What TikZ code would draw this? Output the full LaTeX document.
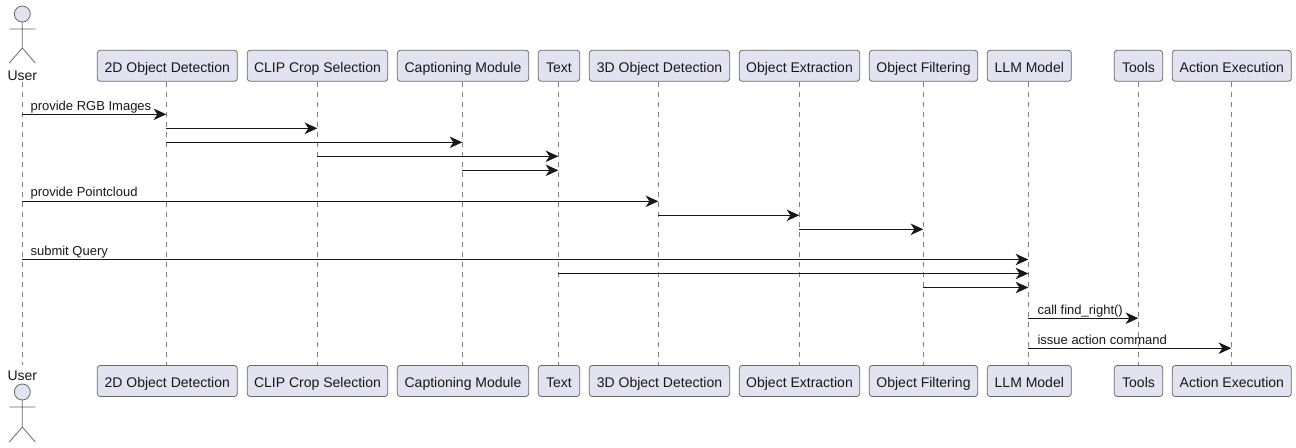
\documentclass[tikz,border=0pt]{standalone}
\usepackage{fontspec}
\setmainfont{Liberation Sans}
\usetikzlibrary{arrows.meta}
\definecolor{boxfill}{HTML}{E2E2F0}
\definecolor{ink}{HTML}{181818}
\tikzset{
  part/.style={draw=ink!65,line width=0.6pt,fill=boxfill,rounded corners=2.2pt,minimum height=23.25pt,inner sep=0pt,text height=10pt,text depth=0.6pt,font=\fontsize{10.5}{12}\selectfont,text=ink},
  who/.style={anchor=base,inner sep=0pt,text height=11.25pt,text depth=1.5pt,font=\fontsize{10.5}{12}\selectfont,text=ink},
  life/.style={draw=ink!55,line width=0.5pt,dash pattern=on 3.75pt off 3.75pt},
  msg/.style={draw=ink,line width=0.75pt,-{Stealth[length=9.5pt,width=8.6pt,inset=2.8pt]}},
  msgtext/.style={anchor=base west,inner sep=0pt,font=\fontsize{9.75}{11}\selectfont,text=ink},
  stick/.style={draw=ink!65,line width=0.6pt},
  headc/.style={draw=ink!65,line width=0.6pt,fill=boxfill}
}
\newcommand{\partrow}[2]{%
  \node[part,minimum width=105pt]    (d2#1)   at (167.3,#2) {2D Object Detection};
  \node[part,minimum width=105.3pt]  (clip#1) at (317.5,#2) {CLIP Crop Selection};
  \node[part,minimum width=98.55pt]  (cap#1)  at (463,#2)   {Captioning Module};
  \node[part,minimum width=31.05pt]  (txt#1)  at (559,#2)   {Text};
  \node[part,minimum width=105.3pt]  (d3#1)   at (659.5,#2) {3D Object Detection};
  \node[part,minimum width=90.3pt]   (ext#1)  at (799.5,#2) {Object Extraction};
  \node[part,minimum width=81.3pt]   (fil#1)  at (923.5,#2) {Object Filtering};
  \node[part,minimum width=63pt]     (llm#1)  at (1029.3,#2) {LLM Model};
  \node[part,minimum width=36.3pt]   (tool#1) at (1138.5,#2) {Tools};
  \node[part,minimum width=89.25pt]  (act#1)  at (1231.8,#2) {Action Execution};
}
\newcommand{\msgline}[4]{%
  \coordinate (m#1) at (0,#2);
  \draw[msg] (#3X |- m#1) -- (#4X |- m#1);
}
\begin{document}
\begin{tikzpicture}[x=0.75pt,y=-0.75pt]
\useasboundingbox (0,0) rectangle (1296,447);
\fill[white] (0,0) rectangle (1296,447);
\node[who] (userT) at (22.3,80) {User};
\node[who] (userB) at (22.3,380) {User};
\partrow{T}{65.8}
\partrow{B}{381}
\foreach \n/\x in {user/22.3,d2/166.3,clip/317.3,cap/462.3,txt/558.3,d3/658.3,ext/799.3,fil/923.3,llm/1028.3,tool/1138.3,act/1231.3}
  \coordinate (\n X) at (\x,0);
\draw[life] (userX |- userT.south) -- (userX |- userB.north);
\foreach \n in {d2,clip,cap,txt,d3,ext,fil,llm,tool,act}
  \draw[life] (\n X |- \n T.south) -- (\n X |- \n B.north);
% actors
\draw[headc] (22.3,14) circle (8);
\draw[stick] (22.3,22) -- (22.3,48) (9.3,29) -- (35.3,29) (9.3,63) -- (22.3,48) -- (35.3,63);
\draw[headc] (22.3,392) circle (8);
\draw[stick] (22.3,400) -- (22.3,427) (9.3,407) -- (35.3,407) (9.3,442) -- (22.3,427) -- (35.3,442);
% messages
\msgline{a}{114.3}{user}{d2}
\msgline{b}{128.3}{d2}{clip}
\msgline{c}{142.3}{d2}{cap}
\msgline{d}{156.3}{clip}{txt}
\msgline{e}{170.3}{cap}{txt}
\msgline{f}{201.3}{user}{d3}
\msgline{g}{215.3}{d3}{ext}
\msgline{h}{229.3}{ext}{fil}
\msgline{i}{259.5}{user}{llm}
\msgline{j}{273.5}{txt}{llm}
\msgline{k}{287.5}{fil}{llm}
\msgline{l}{318.2}{llm}{tool}
\msgline{m}{348.2}{llm}{act}
\node[msgtext] (la) at (30.3,110)   {provide RGB Images};
\node[msgtext] (lf) at (30.3,196)   {provide Pointcloud};
\node[msgtext] (li) at (30.3,255)   {submit Query};
\node[msgtext] (ll) at (1037.3,314) {call find\_right()};
\node[msgtext] (lm) at (1037.3,344) {issue action command};
\end{tikzpicture}
\end{document}
